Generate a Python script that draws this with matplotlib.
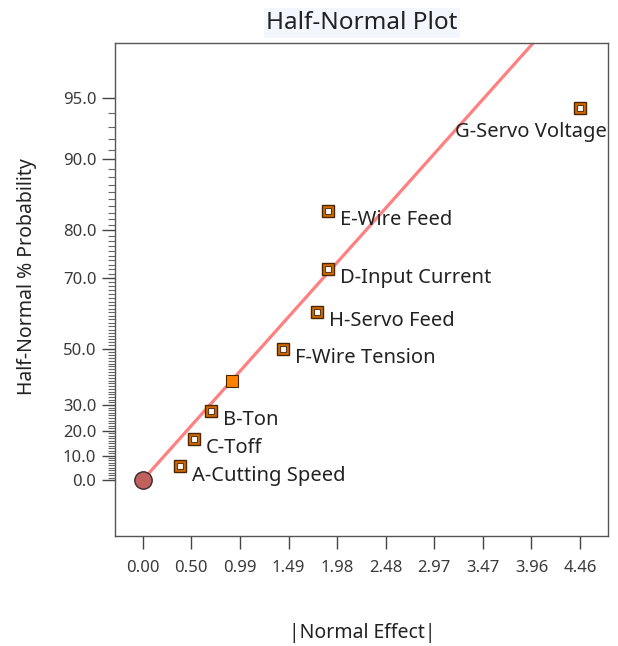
import matplotlib
matplotlib.use('Agg')
import matplotlib.pyplot as plt
import numpy as np
from statistics import NormalDist

plt.rcParams['font.family'] = ['Noto Sans', 'DejaVu Sans']

# dados
efeitos = ['A-Cutting Speed', 'C-Toff', 'B-Ton', '', 'F-Wire Tension',
           'H-Servo Feed', 'D-Input Current', 'E-Wire Feed', 'G-Servo Voltage']
efeito_abs = [0.38, 0.52, 0.70, 0.91, 1.43, 1.78, 1.89, 1.89, 4.46]
prob_pct = [5.6, 16.7, 27.8, 38.9, 50.0, 61.1, 72.2, 83.3, 94.4]
selecionado = [True, True, True, False, True, True, True, True, True]

y_ticks_pct = [0.0, 10.0, 20.0, 30.0, 50.0, 70.0, 80.0, 90.0, 95.0]
x_max_tick = 4.46
inclinacao = 0.563  # reta de ajuste (|efeito| -> quantil)

nd = NormalDist()


def _fwd(p):
    p = np.asarray(p, dtype=float)
    a = np.clip(np.abs(p) / 100.0, 0, 0.999999)
    z = np.array([nd.inv_cdf((1 + v) / 2) for v in a.ravel()]).reshape(a.shape)
    return np.sign(p) * z


def _inv(z):
    z = np.asarray(z, dtype=float)
    p = np.array([2 * nd.cdf(abs(v)) - 1 for v in z.ravel()]).reshape(z.shape)
    return np.sign(z) * p * 100.0


fig = plt.figure(figsize=(6.18, 6.46), dpi=100)
ax = fig.add_axes([115 / 618, 1 - 536 / 646, (607.5 - 115) / 618, (536 - 43) / 646])
ax.set_yscale('function', functions=(_fwd, _inv))

# reta de ajuste
xs = np.linspace(0, 5, 200)
ax.plot(xs, _inv(inclinacao * xs), color='#FF8080', linewidth=2.3, zorder=2)

# ponto de origem
ax.plot([0], [0], 'o', markersize=12.5, markerfacecolor='#C0605F',
        markeredgecolor='#3a2a2a', markeredgewidth=1.0, zorder=4)

for nome, x, p, sel in zip(efeitos, efeito_abs, prob_pct, selecionado):
    if sel:
        ax.plot([x], [p], 's', markersize=8.5, markerfacecolor='#D36A00',
                markeredgecolor='#4a2600', markeredgewidth=1.0, zorder=5)
        ax.plot([x], [p], 's', markersize=4.6, markerfacecolor='white',
                markeredgecolor='#5a3a1a', markeredgewidth=0.8, zorder=6)
        if nome.startswith('G'):
            ax.annotate(nome, (x, p), xytext=(19.5, -17.5), textcoords='offset points',
                        ha='right', va='center', fontsize=14.5, color='#222222')
        else:
            ax.annotate(nome, (x, p), xytext=(8.5, -6.6), textcoords='offset points',
                        ha='left', va='center', fontsize=14.5, color='#222222')
    else:
        ax.plot([x], [p], 's', markersize=8.5, markerfacecolor='#FF8000',
                markeredgecolor='#4a2600', markeredgewidth=0.8, zorder=5)

ax.set_xlim(-0.283, 4.74)
ax.set_ylim(_inv(-0.287), _inv(2.242))

xt = np.linspace(0, x_max_tick, 10)
ax.set_xticks(xt)
ax.set_xticklabels([f'{v:.2f}' for v in xt])
ax.set_yticks(y_ticks_pct)
ax.set_yticklabels([f'{v:.1f}' for v in y_ticks_pct])
minor = [v for v in range(1, 95) if v not in y_ticks_pct]
ax.set_yticks(minor, minor=True)
ax.set_xticks([], minor=True)

ax.tick_params(axis='x', which='major', direction='out', length=9, width=1,
               pad=8, labelsize=12, color='#444444', labelcolor='#3a3a3a')
ax.tick_params(axis='y', which='major', direction='out', length=9.4, width=1,
               pad=4, labelsize=12, color='#444444', labelcolor='#3a3a3a')
ax.tick_params(axis='y', which='minor', direction='out', length=5, width=0.8,
               color='#666666')
for s in ax.spines.values():
    s.set_color('#555555')
    s.set_linewidth(1.0)

fig.text(362 / 618, 1 - 23 / 646, 'Half-Normal Plot', ha='center', va='center',
         fontsize=17.5, color='#222222',
         bbox=dict(facecolor='#F3F6FD', edgecolor='none', pad=2))
fig.text(362 / 618, 1 - 633 / 646, '|Normal Effect|', ha='center', va='center',
         fontsize=14, color='#222222')
fig.text(27 / 618, 1 - 277 / 646, 'Half-Normal % Probability', ha='center', va='center',
         rotation=90, fontsize=14, color='#222222')

fig.savefig('out.png', dpi=100)
plt.close(fig)
